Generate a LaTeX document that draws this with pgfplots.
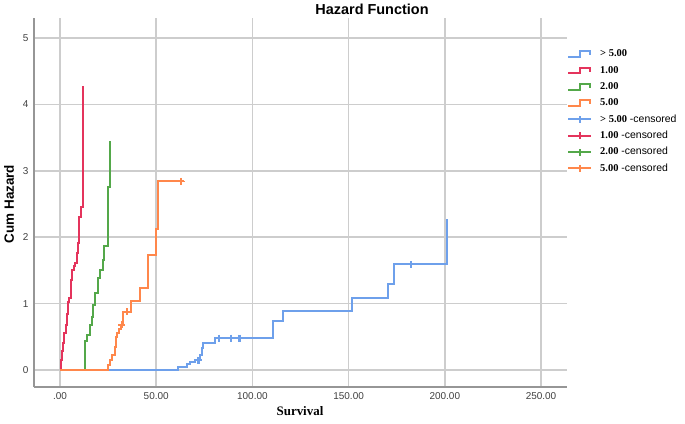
\documentclass[border=0pt]{standalone}
\usepackage{fontspec}
\setmainfont{Liberation Sans}
\newfontfamily\timesfont{Liberation Serif}
\usepackage{pgfplots}
\pgfplotsset{compat=1.18}
\definecolor{cblue}{RGB}{110,160,235}
\definecolor{cred}{RGB}{228,52,92}
\definecolor{cgreen}{RGB}{84,168,74}
\definecolor{corange}{RGB}{255,135,75}
\definecolor{gridgray}{RGB}{205,205,205}
\definecolor{axgray}{RGB}{150,150,150}
\newcommand\steplegend[1]{\draw[color=#1,line width=2bp] (0bp,-2.75bp) -- (12bp,-2.75bp) -- (12bp,2.75bp) -- (22bp,2.75bp) -- (22bp,-1.25bp);}
\newcommand\censlegend[1]{\draw[color=#1,line width=2bp] (0bp,0bp) -- (23bp,0bp) (11.5bp,-3.5bp) -- (11.5bp,3.5bp);}
\begin{document}
\begin{tikzpicture}
\begin{axis}[
  scale only axis, width=533bp, height=369bp,
  xmin=-13.5, xmax=263.5, ymin=-0.256, ymax=5.30,
  axis lines=left,
  axis line style={-, axgray, line width=1.5bp},
  major tick length=0pt,
  grid=major,
  grid style={gridgray, line width=1.6bp},
  xtick={0,50,100,150,200,250},
  xticklabels={.00,50.00,100.00,150.00,200.00,250.00},
  ytick={0,1,2,3,4,5},
  yticklabels={0,1,2,3,4,5},
  tick label style={font=\fontsize{10}{12}\selectfont, color=black!75},
  xticklabel style={yshift=-2bp},
  yticklabel style={xshift=-2bp},
  clip=false,
  legend style={at={(1,0.922)}, anchor=north west, draw=none, fill=none,
    inner sep=0pt, row sep=1.8bp, column sep=6bp,
    font=\fontsize{10.5}{12}\selectfont,
    nodes={inner sep=2bp, text height=8bp, text depth=2.5bp}},
  legend cell align=left,
]
\addplot[cblue, line width=2bp, const plot, mark=none, legend image code/.code={\steplegend{cblue}}] coordinates {
(0,0) (61.5,0.05) (66.2,0.09) (67.6,0.12) (70.2,0.15) (72.8,0.23) (73.6,0.33) (74.5,0.40) (80.6,0.48) (110.5,0.74) (115.7,0.89) (151.6,1.08) (170.3,1.30) (173.4,1.59) (201.1,2.28)};
\addlegendentry{{\timesfont\bfseries > 5.00}}
\addplot[cred, line width=2bp, const plot, mark=none, legend image code/.code={\steplegend{cred}}] coordinates {
(0,0) (0.5,0.15) (1.0,0.28) (1.7,0.40) (2.2,0.55) (3.0,0.68) (3.5,0.85) (4.2,1.03) (4.8,1.08) (5.6,1.36) (6.2,1.51) (7.1,1.56) (7.8,1.61) (8.7,1.76) (9.2,1.91) (10.0,2.31) (10.9,2.46) (11.8,4.27)};
\addlegendentry{{\timesfont\bfseries 1.00}}
\addplot[cgreen, line width=2bp, const plot, mark=none, legend image code/.code={\steplegend{cgreen}}] coordinates {
(0,0) (13.0,0.43) (14.0,0.52) (15.8,0.68) (16.5,0.8) (17.3,0.98) (18.2,1.16) (19.9,1.38) (20.8,1.5) (22.2,1.65) (22.9,1.86) (25.2,2.76) (26.1,3.45)};
\addlegendentry{{\timesfont\bfseries 2.00}}
\addplot[corange, line width=2bp, const plot, mark=none, legend image code/.code={\steplegend{corange}}] coordinates {
(0,0) (25.1,0.08) (26.0,0.15) (26.9,0.23) (28.6,0.35) (29.1,0.5) (29.8,0.55) (30.5,0.62) (31.6,0.68) (32.9,0.88) (36.9,1.04) (41.6,1.23) (46.0,1.73) (49.9,2.13) (50.8,2.84) (64.7,2.84)};
\addlegendentry{{\timesfont\bfseries 5.00}}
\addlegendimage{legend image code/.code={\censlegend{cblue}}}
\addlegendentry{{\timesfont\bfseries > 5.00} -censored}
\addlegendimage{legend image code/.code={\censlegend{cred}}}
\addlegendentry{{\timesfont\bfseries 1.00} -censored}
\addlegendimage{legend image code/.code={\censlegend{cgreen}}}
\addlegendentry{{\timesfont\bfseries 2.00} -censored}
\addlegendimage{legend image code/.code={\censlegend{corange}}}
\addlegendentry{{\timesfont\bfseries 5.00} -censored}
\addplot[cblue, only marks, mark=+, mark size=3.5bp, line width=1.6bp, forget plot] coordinates {
(71.4,0.15) (72.2,0.15) (82.6,0.48) (88.9,0.48) (92.7,0.48) (93.7,0.48) (182.4,1.59)};
\addplot[corange, only marks, mark=+, mark size=3.5bp, line width=1.6bp, forget plot] coordinates {
(32.1,0.68) (34.7,0.88) (63.0,2.84)};
\end{axis}
\node[font=\bfseries\fontsize{14.5}{16}\selectfont] at (338bp,378bp) {Hazard Function};
\node[font=\bfseries\fontsize{13.5}{15}\selectfont, rotate=90] at (-25bp,183bp) {Cum Hazard};
\node[font=\timesfont\bfseries\fontsize{13}{15}\selectfont] at (266bp,-24bp) {Survival};
\pgfresetboundingbox
\path[use as bounding box] (-34bp,-37bp) rectangle (651bp,387bp);
\end{tikzpicture}
\end{document}
